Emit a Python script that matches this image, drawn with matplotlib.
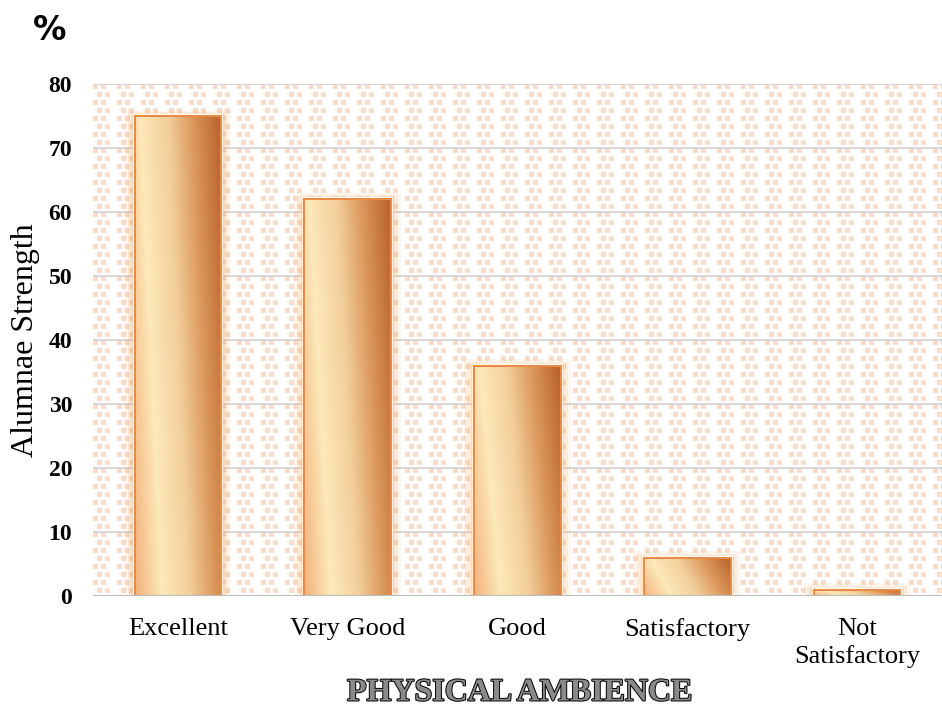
import numpy as np
import matplotlib
matplotlib.use("Agg")
import matplotlib.pyplot as plt
import matplotlib.patheffects as pe
from matplotlib.colors import LinearSegmentedColormap
from matplotlib.patches import Rectangle

categories = ["Excellent", "Very Good", "Good", "Satisfactory", "Not\nSatisfactory"]
values = [75, 62, 36, 6, 1]
yticks = [0, 10, 20, 30, 40, 50, 60, 70, 80]

serif = "Liberation Serif"

fig = plt.figure(figsize=(9.42, 7.11), dpi=100)
ax = fig.add_axes([93 / 942, 1 - 596 / 711, 849 / 942, 512 / 711])

# dotted background texture
h, w = 512, 849
bg = np.ones((h, w, 3))
dot = np.array([0.98, 0.87, 0.80])
for r in range(0, h, 8):
    off = 4 if (r // 8) % 2 else 0
    for c in range(off, w, 8):
        if ((r // 8) * 3 + (c // 8)) % 3 != 2:
            bg[r:r + 5, c:c + 5] = dot
ax.imshow(bg, extent=[0, 1, 0, 1], transform=ax.transAxes, aspect="auto",
          zorder=0, interpolation="nearest")

ax.set_xlim(-0.5, len(categories) - 0.5)
ax.set_ylim(0, 80)
for y in yticks[1:]:
    ax.axhline(y, color="#cfcfcf", lw=1.2, zorder=1)
ax.axhline(0, color="#bdbdbd", lw=1.5, zorder=5)

x = np.arange(len(categories))
bw = 0.51
cmap = LinearSegmentedColormap.from_list(
    "gold", ["#f3b27c", "#fde9b9", "#f2cf9c", "#d99458", "#b8612a"], N=256)
grad = np.linspace(0, 1, 256)[None, :] + 0.25 * np.linspace(0, 1, 64)[:, None]
grad = grad / grad.max()

bars = ax.bar(x, values, bw, facecolor="none", edgecolor="#e98a45", lw=1.5, zorder=4)
for b in bars:
    x0, y0 = b.get_x(), b.get_y()
    bwid, bh = b.get_width(), b.get_height()
    # soft glow
    for k, a in [(0.06, 0.10), (0.04, 0.15), (0.02, 0.25)]:
        ax.add_patch(Rectangle((x0 - k, y0), bwid + 2 * k, bh + k * 16,
                               facecolor="#f6a766", edgecolor="none", alpha=a, zorder=2))
    ax.add_patch(Rectangle((x0 - 0.012, y0), bwid + 0.024, bh + 0.25 * 1.2,
                           facecolor="white", edgecolor="none", zorder=3))
    im = ax.imshow(grad, cmap=cmap, extent=[x0, x0 + bwid, y0, y0 + bh],
                   aspect="auto", zorder=3.5, origin="lower")
    im.set_clip_path(b)

ax.set_xticks(x)
ax.set_xticklabels(categories, fontfamily=serif, fontsize=19, linespacing=1.25)
ax.set_yticks(yticks)
ax.set_yticklabels([str(t) for t in yticks], fontfamily=serif, fontsize=17, fontweight="bold")
ax.tick_params(axis="x", length=0, pad=16)
ax.tick_params(axis="y", length=0, pad=15)
for s in ax.spines.values():
    s.set_visible(False)

ax.set_ylabel("Alumnae Strength", fontfamily=serif, fontsize=23, labelpad=6)
fig.text(33 / 942, 1 - 30 / 711, "%", fontsize=24, fontweight="bold",
         fontfamily="DejaVu Sans", va="center", ha="left")
fig.text(520 / 942, 1 - 693 / 711, "PHYSICAL AMBIENCE", fontfamily=serif, fontsize=23,
         fontweight="bold", color="#8a8a8a", ha="center", va="center",
         path_effects=[pe.withStroke(linewidth=1.4, foreground="black")])

fig.savefig("out.png", dpi=100)
